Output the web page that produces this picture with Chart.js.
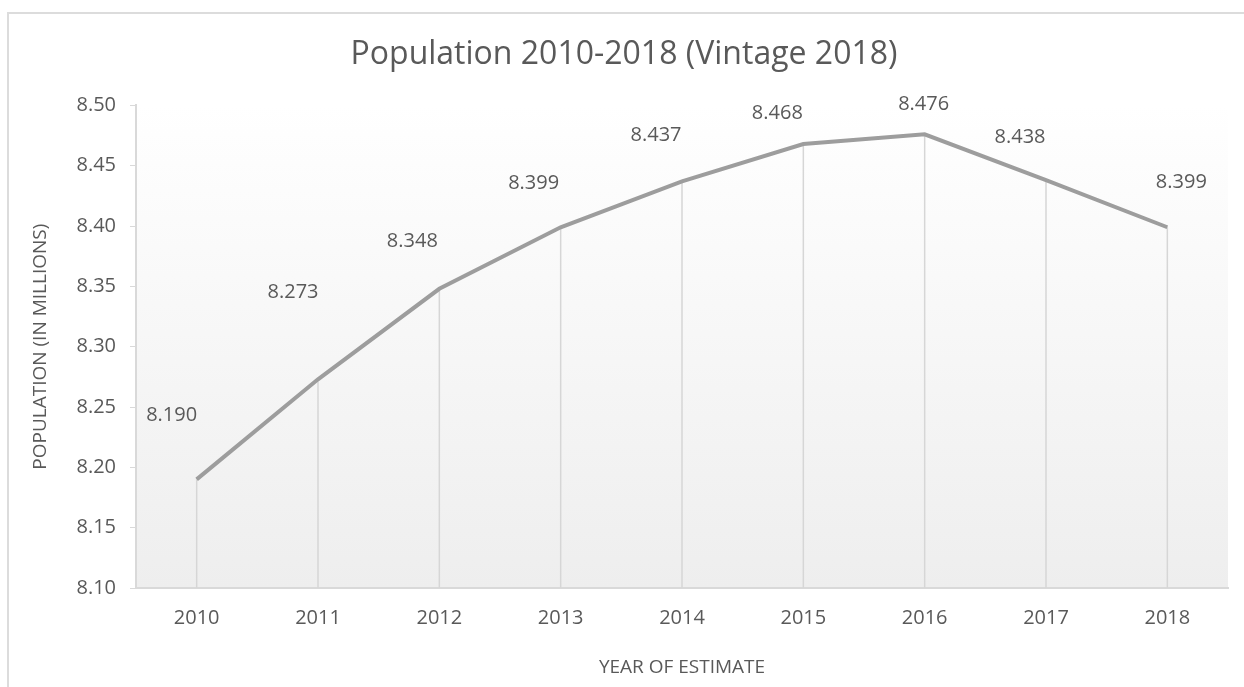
<!DOCTYPE html>
<html>
<head>
<meta charset="utf-8">
<script src="https://cdn.jsdelivr.net/npm/chart.js@4"></script>
<style>
  body { margin: 0; background: #fff; }
  #frame { position: absolute; left: 7px; top: 12px; width: 1300px; height: 700px;
           border-left: 2px solid #dcdcdc; border-top: 2px solid #dcdcdc; }
  #wrap { position: absolute; left: 0; top: 0; width: 1244px; height: 687px; }
</style>
</head>
<body>
<div id="frame"></div>
<div id="wrap"><canvas id="myChart"></canvas></div>
<script>
// data for the x axis
const years = ['2010', '2011', '2012', '2013', '2014', '2015', '2016', '2017', '2018'];
// data for the y axis (millions)
const population = [8.190, 8.273, 8.348, 8.399, 8.437, 8.468, 8.476, 8.438, 8.399];
const yTicks = [8.10, 8.15, 8.20, 8.25, 8.30, 8.35, 8.40, 8.45, 8.50];

const textGrey = '#595959';
const font = 'Open Sans';

// plot area gradient, like the spreadsheet original
const plotBackground = {
    id: 'plotBackground',
    beforeDraw(chart) {
        const { ctx, chartArea: a } = chart;
        const g = ctx.createLinearGradient(0, a.top, 0, a.bottom);
        g.addColorStop(0, '#ffffff');
        g.addColorStop(1, '#eeeeee');
        ctx.save();
        ctx.fillStyle = g;
        ctx.fillRect(a.left, a.top, a.right - a.left, a.bottom - a.top);
        ctx.restore();
    }
};

// vertical drop lines from each point to the x axis
const dropLines = {
    id: 'dropLines',
    beforeDatasetsDraw(chart) {
        const { ctx, chartArea: a } = chart;
        const meta = chart.getDatasetMeta(0);
        ctx.save();
        ctx.strokeStyle = '#d6d6d6';
        ctx.lineWidth = 1.5;
        meta.data.forEach(pt => {
            ctx.beginPath();
            ctx.moveTo(pt.x, pt.y);
            ctx.lineTo(pt.x, a.bottom);
            ctx.stroke();
        });
        ctx.restore();
    }
};

// value labels near each point
const valueLabels = {
    id: 'valueLabels',
    afterDatasetsDraw(chart, args, opts) {
        const { ctx } = chart;
        const meta = chart.getDatasetMeta(0);
        const values = chart.data.datasets[0].data;
        ctx.save();
        ctx.font = '20px "' + font + '"';
        ctx.fillStyle = textGrey;
        ctx.textAlign = 'center';
        ctx.textBaseline = 'middle';
        meta.data.forEach((pt, i) => {
            const off = opts.offsets[i] || [0, -40];
            ctx.fillText(values[i].toFixed(3), pt.x + off[0], pt.y + off[1]);
        });
        ctx.restore();
    }
};

const ctx = document.getElementById('myChart').getContext('2d');
new Chart(ctx, {
    type: 'line',
    data: {
        labels: years,
        datasets: [
            {
                label: 'Population',
                borderColor: '#9d9d9d',
                borderWidth: 4,
                pointRadius: 0,
                tension: 0,
                fill: false,
                data: population
            }
        ]
    },
    options: {
        responsive: true,
        maintainAspectRatio: false,
        animation: false,
        layout: { padding: { left: 20, right: 16, top: 0, bottom: 0 } },
        plugins: {
            legend: { display: false },
            tooltip: { enabled: false },
            title: {
                display: true,
                text: 'Population 2010-2018 (Vintage 2018)',
                color: textGrey,
                font: { family: font, size: 32, weight: 'normal' },
                padding: { top: 36, bottom: 31 }
            },
            valueLabels: {
                offsets: [[-25, -64], [-25, -87], [-27, -47], [-27, -44], [-26, -46],
                          [-26, -31], [-1, -30], [-26, -43], [14, -45]]
            }
        },
        scales: {
            x: {
                offset: true,
                grid: { display: true, drawOnChartArea: false, drawTicks: false },
                border: { display: true, color: '#d9d9d9', width: 2 },
                ticks: { color: textGrey, font: { family: font, size: 20 }, padding: 18 },
                title: {
                    display: true,
                    text: 'YEAR OF ESTIMATE',
                    color: textGrey,
                    font: { family: font, size: 19 },
                    padding: { top: 0, bottom: 8 }
                },
                afterFit(scale) { scale.height = 99; }
            },
            y: {
                min: 8.10,
                max: 8.50,
                afterBuildTicks(scale) { scale.ticks = yTicks.map(v => ({ value: v })); },
                grid: { drawOnChartArea: false, drawTicks: true, tickLength: 6, color: '#d9d9d9' },
                border: { display: true, color: '#d9d9d9', width: 2 },
                ticks: {
                    color: textGrey,
                    font: { family: font, size: 20 },
                    padding: 14,
                    callback: v => Number(v).toFixed(2)
                },
                title: {
                    display: true,
                    text: 'POPULATION (IN MILLIONS)',
                    color: textGrey,
                    font: { family: font, size: 19 },
                    padding: { top: 9, bottom: 0 }
                },
                afterFit(scale) { scale.width = 116; }
            }
        }
    },
    plugins: [plotBackground, dropLines, valueLabels]
});
</script>
</body>
</html>
